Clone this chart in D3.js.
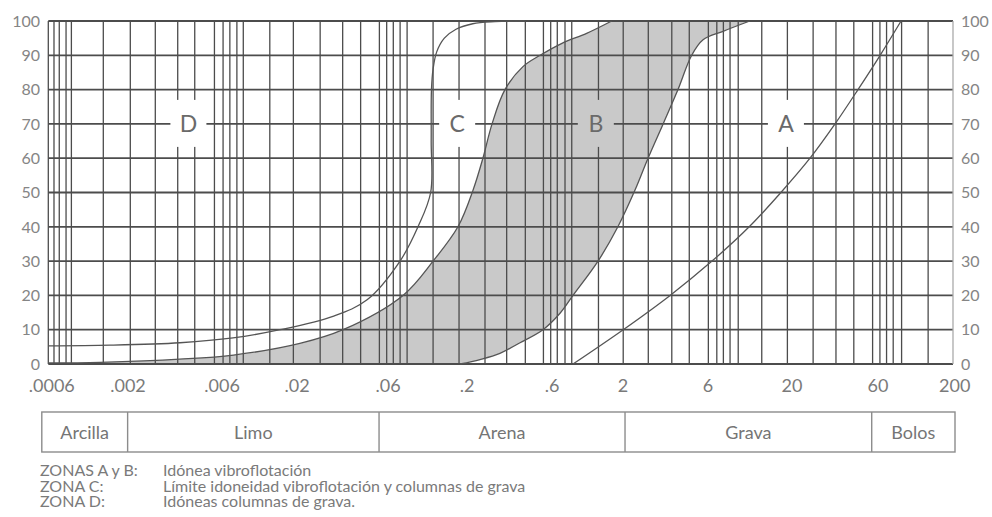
<!DOCTYPE html>
<html>
<head>
<meta charset="utf-8">
<script src="https://cdn.jsdelivr.net/npm/d3@7"></script>
<style>
  body { margin: 0; background: #ffffff; }
  text { font-family: Lato, "Open Sans", sans-serif; }
</style>
</head>
<body>
<script>
var SVG_WIDTH = 992;
var SVG_HEIGHT = 517;
var PLOT_LEFT = 48.3;
var PLOT_RIGHT = 953;
var PLOT_TOP = 21;
var PLOT_BOTTOM = 364;
var GRID_COLOR = "#4c4c4c";
var CURVE_COLOR = "#555555";
var FILL_COLOR = "#c9c9c9";

// grain size axis (mm), log; labels sit where the chart prints them
var xTickLabels = [".0006", ".002", ".006", ".02", ".06", ".2", ".6", "2", "6", "20", "60", "200"];
var xTickAt = [0.00063, 0.00184, 0.0069, 0.0198, 0.0712, 0.216, 0.713, 1.935, 6.39, 20.8, 69.7, 205];
var yTickValues = [0, 10, 20, 30, 40, 50, 60, 70, 80, 90, 100];

// vertical grid lines as drawn on the chart (mm)
var gridSizes = [0.00065, 0.0007, 0.00077, 0.00083, 0.0013, 0.0019, 0.0027, 0.0037, 0.0047,
                 0.0062, 0.007, 0.0077, 0.0085, 0.0093, 0.0135, 0.0188, 0.0274, 0.0376, 0.0484,
                 0.063, 0.0698, 0.0766, 0.0843, 0.093, 0.134, 0.193, 0.278, 0.377, 0.49,
                 0.632, 0.70, 0.768, 0.856, 0.941, 1.37, 1.94, 2.76, 3.84, 4.91,
                 6.42, 7.23, 7.93, 8.71, 9.77, 13.6, 19.5, 28.0, 38.6, 49.6,
                 64.6, 71.6, 78.6, 86.3, 97.1, 141];

// curve C (upper limit of zone D)
var curveCSize = [0.0006, 0.00143, 0.00382, 0.00805, 0.0156, 0.0328, 0.053, 0.0842, 0.1084, 0.1295, 0.1305, 0.131, 0.134, 0.141, 0.157, 0.185, 0.234, 0.32, 0.49];
var curveCPct  = [5.3, 5.5, 6.2, 7.6, 10, 13.9, 18.7, 30, 40, 50, 65, 80, 86, 91, 95, 97.6, 99.2, 99.8, 100];

// zone B, fine limit
var curveBFineSize = [0.0006, 0.00124, 0.0038, 0.0081, 0.0206, 0.0378, 0.0878, 0.134, 0.19, 0.235, 0.27, 0.307, 0.368, 0.474, 0.603, 0.82, 1.16, 1.65];
var curveBFinePct  = [0.3, 0.5, 1.4, 2.6, 6, 10, 20, 30, 40, 50.7, 60, 70, 80, 86.7, 90, 93.5, 96.4, 100];

// zone B, coarse limit
var curveBCoarseSize = [0.1957, 0.259, 0.343, 0.455, 0.628, 0.798, 0.958, 1.362, 1.80, 2.29, 2.75, 3.4, 4.19, 5.08, 5.96, 7.9, 11.5];
var curveBCoarsePct  = [0, 1.3, 3.1, 6.2, 10, 14.8, 20, 30, 40, 50.7, 60, 70, 80, 90, 94.5, 97, 100];

// curve A (coarse limit of zone A)
var curveASize = [0.958, 1.94, 3.75, 6.76, 11.4, 17.8, 26.8, 38.1, 52.6, 71.8, 96.4];
var curveAPct  = [0, 10, 20, 30, 40, 50, 60, 70, 80, 90, 100];

// zone letters
var zoneNames = ["D", "C", "B", "A"];
var zoneSize = [0.0043, 0.188, 1.32, 19.1];
var zonePct = 70;

// soil classes band (dividers as printed)
var soilClasses = ["Arcilla", "Limo", "Arena", "Grava", "Bolos"];
var soilLimits = [0.00183, 0.0627, 1.99, 63.8];

// notes
var noteKeys = ["ZONAS A y B:", "ZONA C:", "ZONA D:"];
var noteTexts = ["Idónea vibroflotación",
                 "Límite idoneidad vibroflotación y columnas de grava",
                 "Idóneas columnas de grava."];


var svg, x, y;

function toPoints(sizes, pcts)
{
  return sizes.map(function(s, i) { return [s, pcts[i]]; });
}

function setupScales()
{
  x = d3.scaleLog().domain([0.0006, 200]).range([PLOT_LEFT, PLOT_RIGHT]);
  y = d3.scaleLinear().domain([0, 100]).range([PLOT_BOTTOM, PLOT_TOP]);
}

function curveLine()
{
  return d3.line()
           .x(function(d) { return x(d[0]); })
           .y(function(d) { return y(d[1]); })
           .curve(d3.curveCatmullRom.alpha(0.5));
}

function drawZoneFill()
{
  var line = curveLine();
  var finePath = line(toPoints(curveBFineSize, curveBFinePct));
  var coarsePath = line(toPoints(curveBCoarseSize, curveBCoarsePct).reverse());

  svg.append("path")
     .attr("d", "M" + x(0.0006) + "," + y(0) + "L" + finePath.slice(1) +
                "L" + coarsePath.slice(1) + "Z")
     .style("fill", FILL_COLOR)
     .style("stroke", "none");
}

function drawGrid()
{
  // gaps in the grid around the zone letters
  var mask = svg.append("defs").append("mask").attr("id", "letter_gaps")
                .attr("maskUnits", "userSpaceOnUse")
                .attr("x", 0).attr("y", 0)
                .attr("width", SVG_WIDTH).attr("height", SVG_HEIGHT);
  mask.append("rect")
      .attr("width", SVG_WIDTH)
      .attr("height", SVG_HEIGHT)
      .style("fill", "#ffffff");
  mask.selectAll(".gap").data(zoneSize).enter().append("rect")
      .attr("x", function(d) { return x(d) - 18; })
      .attr("y", y(zonePct) - 24)
      .attr("width", 36)
      .attr("height", 47)
      .style("fill", "#000000");

  var grid = svg.append("g").attr("id", "grid").attr("mask", "url(#letter_gaps)");

  grid.selectAll(".vgrid").data(gridSizes).enter().append("line")
      .attr("class", "vgrid")
      .attr("x1", function(d) { return x(d); })
      .attr("x2", function(d) { return x(d); })
      .attr("y1", y(0))
      .attr("y2", y(100))
      .style("stroke", GRID_COLOR)
      .style("stroke-width", 1.3);

  grid.selectAll(".hgrid").data(yTickValues).enter().append("line")
      .attr("class", "hgrid")
      .attr("x1", PLOT_LEFT)
      .attr("x2", PLOT_RIGHT)
      .attr("y1", function(d) { return y(d); })
      .attr("y2", function(d) { return y(d); })
      .style("stroke", GRID_COLOR)
      .style("stroke-width", 1.8);

  // frame
  svg.append("line")
     .attr("x1", x(0.0006)).attr("x2", x(0.0006))
     .attr("y1", y(0)).attr("y2", y(100))
     .style("stroke", GRID_COLOR)
     .style("stroke-width", 1.3);
  svg.append("line")
     .attr("x1", x(200)).attr("x2", x(200))
     .attr("y1", y(0)).attr("y2", y(100))
     .style("stroke", "#aaaaaa")
     .style("stroke-width", 1.3);
}

function drawCurves()
{
  var line = curveLine();

  var curves = [
    toPoints(curveCSize, curveCPct),
    toPoints(curveBFineSize, curveBFinePct),
    toPoints(curveBCoarseSize, curveBCoarsePct),
    toPoints(curveASize, curveAPct)
  ];

  svg.selectAll(".curve").data(curves).enter().append("path")
     .attr("class", "curve")
     .attr("d", line)
     .style("fill", "none")
     .style("stroke", CURVE_COLOR)
     .style("stroke-width", 1.3);

  svg.selectAll(".zone_label").data(zoneNames).enter().append("text")
     .attr("class", "zone_label")
     .attr("x", function(d, i) { return x(zoneSize[i]); })
     .attr("y", y(zonePct))
     .attr("dy", "0.36em")
     .attr("text-anchor", "middle")
     .style("font-size", "23px")
     .style("fill", "#6a6a6a")
     .text(function(d) { return d; });
}

function drawAxes()
{
  // percent labels on both sides
  svg.selectAll(".ylabel_left").data(yTickValues).enter().append("text")
     .attr("class", "ylabel_left")
     .attr("x", 40)
     .attr("y", function(d) { return y(d); })
     .attr("dy", "0.36em")
     .attr("text-anchor", "end")
     .style("font-size", "16px")
     .style("fill", "#858585")
     .text(function(d) { return d; });

  svg.selectAll(".ylabel_right").data(yTickValues).enter().append("text")
     .attr("class", "ylabel_right")
     .attr("x", 961)
     .attr("y", function(d) { return y(d); })
     .attr("dy", "0.36em")
     .attr("text-anchor", "start")
     .style("font-size", "16px")
     .style("fill", "#858585")
     .text(function(d) { return d; });

  // grain size labels
  svg.selectAll(".xlabel").data(xTickAt).enter().append("text")
     .attr("class", "xlabel")
     .attr("x", function(d) { return x(d); })
     .attr("y", 392)
     .attr("text-anchor", "middle")
     .style("font-size", "18px")
     .style("fill", "#7a7a7a")
     .text(function(d, i) { return xTickLabels[i]; });
}

function drawSoilBand()
{
  var bandTop = 412;
  var bandBottom = 452;
  var edges = [PLOT_LEFT - 6.5].concat(soilLimits.map(x)).concat([PLOT_RIGHT + 2]);

  var band = svg.append("g").attr("id", "soil_band");

  band.append("rect")
      .attr("x", edges[0])
      .attr("y", bandTop)
      .attr("width", edges[edges.length - 1] - edges[0])
      .attr("height", bandBottom - bandTop)
      .style("fill", "none")
      .style("stroke", "#8c8c8c")
      .style("stroke-width", 1.4);

  band.selectAll(".divider").data(soilLimits).enter().append("line")
      .attr("class", "divider")
      .attr("x1", x).attr("x2", x)
      .attr("y1", bandTop).attr("y2", bandBottom)
      .style("stroke", "#8c8c8c")
      .style("stroke-width", 1.4);

  band.selectAll(".soil_label").data(soilClasses).enter().append("text")
      .attr("class", "soil_label")
      .attr("x", function(d, i) { return (edges[i] + edges[i + 1]) / 2; })
      .attr("y", 439)
      .attr("text-anchor", "middle")
      .style("font-size", "18px")
      .style("fill", "#757575")
      .text(function(d) { return d; });
}

function drawNotes()
{
  var notes = svg.append("g").attr("id", "notes");

  notes.selectAll(".note_key").data(noteKeys).enter().append("text")
       .attr("class", "note_key")
       .attr("x", 40)
       .attr("y", function(d, i) { return 476 + i * 15.5; })
       .style("font-size", "16px")
       .style("fill", "#7a7a7a")
       .text(function(d) { return d; });

  notes.selectAll(".note_text").data(noteTexts).enter().append("text")
       .attr("class", "note_text")
       .attr("x", 163)
       .attr("y", function(d, i) { return 476 + i * 15.5; })
       .style("font-size", "16px")
       .style("fill", "#7a7a7a")
       .text(function(d) { return d; });
}

function initializeMainEnvironment()
{
  svg = d3.select("body").append("svg")
          .attr("width", SVG_WIDTH)
          .attr("height", SVG_HEIGHT);

  svg.append("rect")
     .attr("width", SVG_WIDTH)
     .attr("height", SVG_HEIGHT)
     .style("fill", "#ffffff");

  setupScales();
  drawZoneFill();
  drawGrid();
  drawCurves();
  drawAxes();
  drawSoilBand();
  drawNotes();
}

initializeMainEnvironment();
</script>
</body>
</html>
